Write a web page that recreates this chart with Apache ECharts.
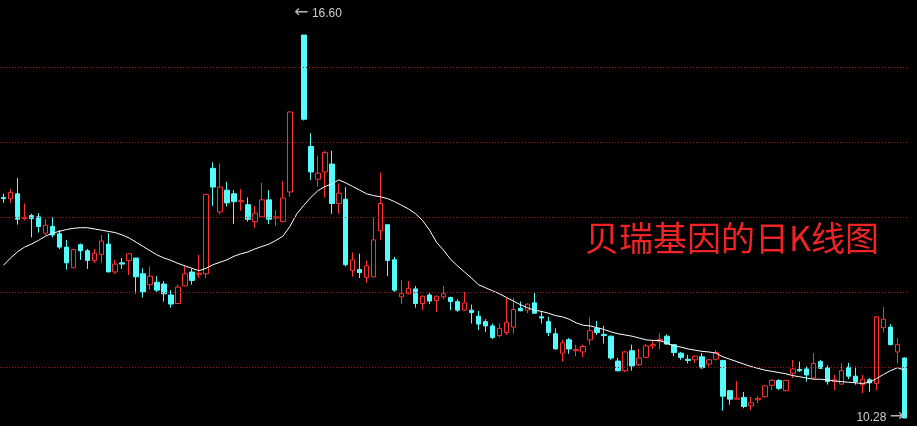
<!DOCTYPE html>
<html>
<head>
<meta charset="utf-8">
<title>贝瑞基因 日K线</title>
<script src="https://cdn.jsdelivr.net/npm/echarts@6/dist/echarts.min.js"></script>
<style>
  html, body { margin: 0; padding: 0; background: #000; }
  #chart { width: 917px; height: 426px; }
</style>
</head>
<body>
<div id="chart"></div>
<script>
// Chart caption
const stockTitle = '贝瑞基因的日K线图';

// Daily bars: [open, close, low, high]; one suspended day is left empty
const dailyBars = [
  [13.92, 13.90, 13.83, 13.98], [13.90, 14.00, 13.83, 14.06], [13.98, 13.56, 13.47, 14.24], [13.57, 13.59, 13.54, 13.82],
  [13.62, 13.57, 13.26, 13.65], [13.60, 13.44, 13.34, 13.66], [13.33, 13.46, 13.30, 13.56], [13.44, 13.30, 13.26, 13.59],
  [13.32, 13.10, 13.07, 13.38], [13.10, 12.84, 12.73, 13.22], [12.76, 13.06, 12.75, 13.07], [13.14, 13.04, 12.89, 13.16],
  [13.04, 12.88, 12.74, 13.07], [12.88, 13.00, 12.84, 13.07], [12.98, 13.20, 12.84, 13.30], [13.15, 12.69, 12.69, 13.33],
  [12.69, 12.82, 12.66, 12.89], [12.84, 12.82, 12.74, 12.92], [12.88, 12.99, 12.64, 13.00], [12.92, 12.61, 12.33, 12.92],
  [12.66, 12.36, 12.27, 12.75], [12.48, 12.62, 12.40, 12.78], [12.52, 12.39, 12.36, 12.62], [12.49, 12.33, 12.20, 12.54],
  [12.31, 12.16, 12.10, 12.39], [12.17, 12.44, 12.16, 12.48], [12.46, 12.66, 12.45, 12.79], [12.69, 12.55, 12.48, 12.74],
  [12.65, 12.67, 12.59, 12.97], [12.66, 13.97, 12.59, 13.98], [14.40, 14.09, 13.78, 14.50], [13.68, 14.09, 13.64, 14.48],
  [14.04, 13.83, 13.77, 14.18], [13.98, 13.85, 13.48, 14.04], [13.85, 13.87, 13.70, 14.06], [13.80, 13.56, 13.52, 13.92],
  [13.52, 13.66, 13.42, 13.78], [13.60, 13.88, 13.59, 14.16], [13.88, 13.56, 13.48, 14.04], [13.58, 13.60, 13.45, 13.71],
  [13.52, 13.91, 13.51, 14.19], [14.01, 15.33, 13.93, 15.34], ['-', '-', '-', '-'],            [16.60, 15.21, 15.19, 16.60],
  [14.76, 14.34, 14.21, 14.98], [14.22, 14.32, 14.10, 14.61], [14.34, 14.66, 13.92, 14.69], [14.47, 13.82, 13.65, 14.69],
  [13.82, 13.99, 13.65, 14.15], [13.89, 12.81, 12.78, 14.09], [12.71, 12.89, 12.61, 13.01], [12.73, 12.68, 12.59, 12.99],
  [12.60, 12.79, 12.51, 12.88], [12.61, 13.22, 12.60, 13.59], [13.37, 13.82, 13.22, 14.33], [13.47, 12.88, 12.62, 13.47],
  [12.89, 12.39, 12.36, 12.94], [12.28, 12.33, 12.16, 12.56], [12.33, 12.42, 12.32, 12.54], [12.41, 12.17, 12.10, 12.46],
  [12.17, 12.29, 12.06, 12.30], [12.31, 12.21, 12.16, 12.35], [12.22, 12.29, 12.03, 12.30], [12.28, 12.33, 12.24, 12.46],
  [12.27, 12.20, 12.06, 12.28], [12.20, 12.06, 12.03, 12.24], [12.06, 12.18, 12.05, 12.36], [12.06, 12.02, 11.84, 12.15],
  [11.96, 11.83, 11.73, 12.05], [11.87, 11.80, 11.70, 11.91], [11.80, 11.61, 11.58, 11.84], [11.64, 11.76, 11.61, 11.84],
  [11.69, 11.86, 11.65, 12.26], [11.78, 12.07, 11.67, 12.26], [12.09, 12.05, 12.04, 12.20], [12.06, 12.16, 12.01, 12.17],
  [12.18, 12.01, 12.00, 12.36], [11.95, 11.93, 11.84, 12.05], [11.87, 11.69, 11.63, 11.95], [11.67, 11.42, 11.41, 11.76],
  [11.35, 11.52, 11.21, 11.57], [11.57, 11.42, 11.34, 11.60], [11.39, 11.41, 11.30, 11.49], [11.37, 11.46, 11.28, 11.49],
  [11.57, 11.72, 11.49, 11.94], [11.76, 11.69, 11.65, 11.88], [11.66, 11.64, 11.51, 11.80], [11.63, 11.27, 11.24, 11.64],
  [11.22, 11.06, 11.05, 11.27], [11.06, 11.37, 11.04, 11.39], [11.39, 11.14, 11.06, 11.49], [11.16, 11.27, 11.14, 11.42],
  [11.28, 11.47, 11.27, 11.50], [11.47, 11.49, 11.42, 11.56], [11.54, 11.58, 11.41, 11.68], [11.63, 11.50, 11.49, 11.66],
  [11.49, 11.36, 11.30, 11.50], [11.35, 11.28, 11.24, 11.37], [11.25, 11.23, 11.18, 11.32], [11.24, 11.30, 11.19, 11.31],
  [11.29, 11.11, 11.09, 11.35], [11.17, 11.24, 11.13, 11.25], [11.25, 11.36, 11.23, 11.40], [11.23, 10.64, 10.40, 11.23],
  [10.73, 10.59, 10.50, 10.74], [10.59, 10.61, 10.58, 10.89], [10.62, 10.47, 10.44, 10.71], [10.48, 10.53, 10.41, 10.63],
  [10.58, 10.60, 10.52, 10.64], [10.63, 10.81, 10.62, 10.82], [10.82, 10.90, 10.74, 10.92], [10.90, 10.77, 10.74, 10.92],
  [10.73, 10.90, 10.72, 10.91], [11.02, 11.09, 10.94, 11.24], [11.08, 11.06, 11.04, 11.21], [11.09, 10.99, 10.88, 11.13],
  [10.94, 11.18, 10.93, 11.35], [11.21, 11.10, 11.09, 11.24], [11.11, 10.88, 10.83, 11.15], [10.88, 10.91, 10.74, 10.99],
  [10.84, 11.06, 10.83, 11.19], [11.12, 10.97, 10.92, 11.19], [10.97, 10.88, 10.83, 11.13], [10.83, 10.92, 10.69, 10.99],
  [10.91, 10.86, 10.71, 10.94], [10.85, 11.95, 10.74, 11.96], [11.77, 11.91, 11.69, 12.11], [11.78, 11.49, 11.48, 11.83],
  [11.37, 11.49, 11.18, 11.60], [11.27, 10.28, 10.28, 11.28]
];

// Moving-average line, one value per trading day
const movingAvg = [
  12.80, 12.92, 13.02, 13.10, 13.15, 13.21, 13.28, 13.33, 13.36, 13.39,
  13.41, 13.42, 13.42, 13.40, 13.38, 13.36, 13.34, 13.30, 13.25, 13.18,
  13.11, 13.04, 12.97, 12.92, 12.88, 12.83, 12.79, 12.75, 12.71, 12.75,
  12.81, 12.85, 12.89, 12.95, 12.99, 13.02, 13.07, 13.11, 13.15, 13.21,
  13.28, 13.44, 13.65, 13.79, 13.92, 14.03, 14.10, 14.14, 14.21, 14.16,
  14.10, 14.04, 13.98, 13.95, 13.93, 13.90, 13.85, 13.79, 13.73, 13.65,
  13.54, 13.38, 13.18, 13.05, 12.90, 12.79, 12.69, 12.59, 12.48, 12.43,
  12.38, 12.33, 12.27, 12.21, 12.15, 12.10, 12.06, 12.04, 12.01, 11.97,
  11.95, 11.91, 11.85, 11.81, 11.80, 11.77, 11.74, 11.70, 11.67, 11.65,
  11.63, 11.60, 11.57, 11.56, 11.56, 11.51, 11.47, 11.45, 11.42, 11.40,
  11.38, 11.37, 11.35, 11.29, 11.25, 11.21, 11.17, 11.13, 11.10, 11.07,
  11.05, 11.03, 11.01, 10.98, 10.96, 10.94, 10.92, 10.92, 10.91, 10.89,
  10.88, 10.87, 10.86, 10.85, 10.87, 10.93, 11.00, 11.06, 11.11, 11.07
];

// Horizontal price guide levels
const gridLevels = [16.07, 14.83, 13.59, 12.35, 11.12];

// Trading-day slots on the x axis
const days = dailyBars.map((_, i) => 'D' + (i + 1));

// Find the highest high and lowest low for the extreme tags
let hiIdx = 0, loIdx = 0;
dailyBars.forEach((b, i) => {
  if (typeof b[0] !== 'number') return;
  if (b[3] > dailyBars[hiIdx][3]) hiIdx = i;
  if (b[2] < dailyBars[loIdx][2]) loIdx = i;
});
const hiVal = dailyBars[hiIdx][3];
const loVal = dailyBars[loIdx][2];

// Tag text: a long thin arrow followed/preceded by the price
const tagRich = {
  arr: { fontSize: 17, color: '#B4B4B4', fontFamily: 'DejaVu Sans, sans-serif', lineHeight: 14, padding: [0, 0, 2, 0] },
  num: { fontSize: 12, color: '#CFCFCF', fontFamily: 'Liberation Sans, Arial, sans-serif', lineHeight: 14 }
};

const chart = echarts.init(document.getElementById('chart'), null, { renderer: 'canvas' });
chart.setOption({
  backgroundColor: '#000000',
  animation: false,
  grid: { left: -2, right: 9, top: 0, bottom: 0 },
  xAxis: { type: 'category', data: days, boundaryGap: true, show: false },
  yAxis: { type: 'value', min: 10.148, max: 17.178, show: false, splitLine: { show: false } },
  graphic: [{
    type: 'text', left: 585, top: 221, z: 10,
    style: { text: stockTitle, fill: '#F02424', font: '34px "Noto Sans CJK SC", sans-serif' }
  }],
  series: [
    {
      // guide lines drawn underneath the bars
      type: 'line', data: [], z: 1, silent: true,
      markLine: {
        silent: true, symbol: 'none', label: { show: false },
        lineStyle: { color: '#A01212', type: [1, 2], width: 1 },
        data: gridLevels.map(v => ({ yAxis: v }))
      }
    },
    {
      type: 'candlestick', data: dailyBars, barWidth: 5, z: 2,
      itemStyle: {
        color: '#000000', color0: '#54FCFC',
        borderColor: '#FF3232', borderColor0: '#54FCFC', borderWidth: 1
      },
      markPoint: {
        silent: true,
        data: [
          {
            coord: [days[hiIdx], hiVal], symbol: 'circle', symbolSize: 1,
            itemStyle: { color: 'rgba(0,0,0,0)' },
            label: {
              show: true, position: 'right', distance: 0, offset: [-10, -21],
              formatter: '{arr|←}{num| ' + hiVal.toFixed(2) + '}', rich: tagRich
            }
          },
          {
            coord: [days[loIdx], loVal], symbol: 'circle', symbolSize: 1,
            itemStyle: { color: 'rgba(0,0,0,0)' },
            label: {
              show: true, position: 'left', distance: 0, offset: [0, 0],
              formatter: '{num|' + loVal.toFixed(2) + ' }{arr|→}', rich: tagRich
            }
          }
        ]
      }
    },
    {
      type: 'line', data: movingAvg, z: 3, symbol: 'none', smooth: false,
      lineStyle: { color: '#FFFFFF', width: 1 }
    }
  ]
});
</script>
</body>
</html>
